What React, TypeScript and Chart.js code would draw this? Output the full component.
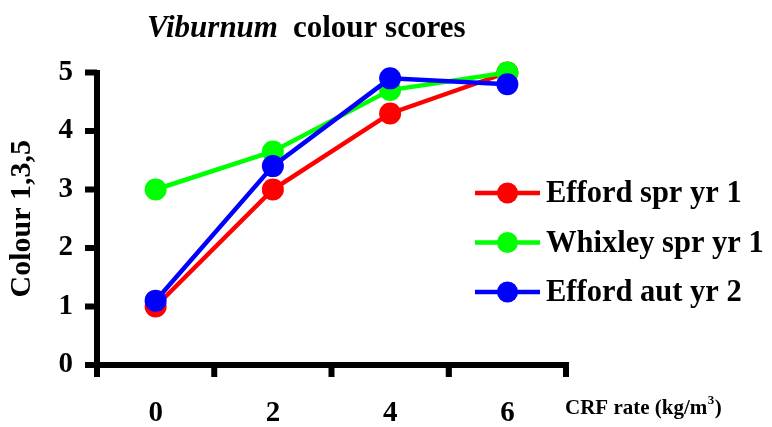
import React, { useEffect, useRef } from 'react';
import { Chart, registerables } from 'chart.js';

Chart.register(...registerables);

const categories = ['0', '2', '4', '6'];
const seriesLabels = ['Efford spr yr 1', 'Whixley spr yr 1', 'Efford aut yr 2'];
const effordSpr = [1.0, 3.0, 4.3, 5.0];
const whixleySpr = [3.0, 3.65, 4.7, 5.0];
const effordAut = [1.1, 3.4, 4.9, 4.8];
const yMin = 0;
const yMax = 5;
const yStep = 1;
const titleItalic = 'Viburnum';
const titleRest = 'colour scores';
const yTitle = 'Colour 1,3,5';
const xTitleMain = 'CRF rate (kg/m';
const xTitleSup = '3';
const xTitleEnd = ')';
const seriesColors = ['#ff0000', '#00ff00', '#0000ff'];

const FAMILY = "'Liberation Serif', 'Times New Roman', serif";
const AXIS_W = 6;
const TICK_LEN = 12;

const axesPlugin = {
  id: 'thickAxes',
  afterDatasetsDraw(chart: any) {
    const ctx = chart.ctx as CanvasRenderingContext2D;
    const { left, right, top, bottom } = chart.chartArea;
    const xs = chart.scales.x;
    const ys = chart.scales.y;
    ctx.save();
    ctx.strokeStyle = '#000';
    ctx.fillStyle = '#000';
    // y axis line
    ctx.fillRect(left - AXIS_W / 2, top - 2.5, AXIS_W, bottom + TICK_LEN - top + 2.5);
    // x axis line
    ctx.fillRect(left - TICK_LEN, bottom - AXIS_W / 2, right + 3 - (left - TICK_LEN), AXIS_W);
    // y ticks
    ys.ticks.forEach((t: any) => {
      const py = ys.getPixelForValue(t.value);
      ctx.fillRect(left - TICK_LEN, py - AXIS_W / 2, TICK_LEN, AXIS_W);
    });
    // x ticks at category boundaries
    const n = xs.ticks.length;
    for (let i = 0; i <= n; i++) {
      const px = i === 0
        ? left
        : i === n
          ? right
          : (xs.getPixelForValue(i - 1) + xs.getPixelForValue(i)) / 2;
      ctx.fillRect(px - AXIS_W / 2, bottom, AXIS_W, TICK_LEN);
    }
    ctx.restore();
  },
};

const overlayPlugin = {
  id: 'overlay',
  afterDraw(chart: any) {
    const ctx = chart.ctx as CanvasRenderingContext2D;
    ctx.save();
    ctx.fillStyle = '#000';
    ctx.textAlign = 'left';
    ctx.textBaseline = 'alphabetic';
    // title
    ctx.font = `italic bold 31px ${FAMILY}`;
    ctx.fillText(titleItalic, 147, 37);
    ctx.font = `bold 31px ${FAMILY}`;
    ctx.fillText(titleRest, 293, 37);
    // x axis title
    ctx.font = `bold 21px ${FAMILY}`;
    let x = 565;
    ctx.fillText(xTitleMain, x, 414);
    x += ctx.measureText(xTitleMain).width;
    ctx.font = `bold 13px ${FAMILY}`;
    ctx.fillText(xTitleSup, x + 0.5, 404);
    x += ctx.measureText(xTitleSup).width + 1;
    ctx.font = `bold 21px ${FAMILY}`;
    ctx.fillText(xTitleEnd, x, 414);
    // legend
    const ds = chart.data.datasets;
    ds.forEach((d: any, i: number) => {
      const y = 193 + i * 49.5;
      ctx.strokeStyle = d.borderColor;
      ctx.lineWidth = 4.5;
      ctx.beginPath();
      ctx.moveTo(475, y);
      ctx.lineTo(540, y);
      ctx.stroke();
      ctx.fillStyle = d.backgroundColor;
      ctx.beginPath();
      ctx.arc(507.5, y, 10.5, 0, Math.PI * 2);
      ctx.fill();
      ctx.fillStyle = '#000';
      ctx.font = `bold 30.5px ${FAMILY}`;
      ctx.textBaseline = 'middle';
      ctx.fillText(d.label, 546, y + 1.5);
    });
    ctx.restore();
  },
};

export default function App() {
  const ref = useRef<HTMLCanvasElement>(null);
  useEffect(() => {
    document.body.style.margin = '0';
    const canvas = ref.current;
    if (!canvas) return;
    const seriesData = [effordSpr, whixleySpr, effordAut];
    const orders = [3, 2, 1];
    const chart = new Chart(canvas, {
      type: 'line',
      data: {
        labels: categories,
        datasets: seriesData.map((values, i) => ({
          label: seriesLabels[i],
          data: values,
          borderColor: seriesColors[i],
          backgroundColor: seriesColors[i],
          pointBackgroundColor: seriesColors[i],
          pointBorderColor: seriesColors[i],
          pointBorderWidth: 0,
          pointRadius: 11,
          borderWidth: 4.5,
          tension: 0,
          fill: false,
          clip: false,
          order: orders[i],
        })),
      },
      options: {
        responsive: false,
        animation: false,
        devicePixelRatio: 1,
        layout: { padding: { left: 0, top: 72.5, right: 206, bottom: 0 } },
        plugins: {
          legend: { display: false },
          title: { display: false },
          tooltip: { enabled: false },
        },
        scales: {
          x: {
            type: 'category',
            offset: true,
            grid: {
              offset: true,
              drawOnChartArea: false,
              drawTicks: true,
              tickLength: TICK_LEN,
              lineWidth: 4.5,
              tickWidth: 4.5,
              color: '#000',
              tickColor: '#000',
            },
            border: { display: true, width: AXIS_W, color: '#000' },
            ticks: {
              color: '#000',
              font: { family: FAMILY, size: 29, weight: 'bold' },
              padding: 19,
              maxRotation: 0,
              autoSkip: false,
            },
            afterFit: (s: any) => {
              s.height = 62;
            },
          },
          y: {
            min: yMin,
            max: yMax,
            grid: {
              drawOnChartArea: false,
              drawTicks: true,
              tickLength: TICK_LEN,
              lineWidth: 4.5,
              tickWidth: 4.5,
              color: '#000',
              tickColor: '#000',
            },
            border: { display: true, width: AXIS_W, color: '#000' },
            ticks: {
              stepSize: yStep,
              color: '#000',
              font: { family: FAMILY, size: 29, weight: 'bold' },
              padding: 12,
            },
            title: {
              display: true,
              text: yTitle,
              color: '#000',
              font: { family: FAMILY, size: 30, weight: 'bold' },
              padding: { top: 4, bottom: 0 },
            },
            afterFit: (s: any) => {
              s.width = 97;
            },
          },
        },
      },
      plugins: [axesPlugin, overlayPlugin],
    });
    return () => chart.destroy();
  }, []);
  return <canvas ref={ref} width={772} height={427} style={{ display: 'block' }} />;
}
